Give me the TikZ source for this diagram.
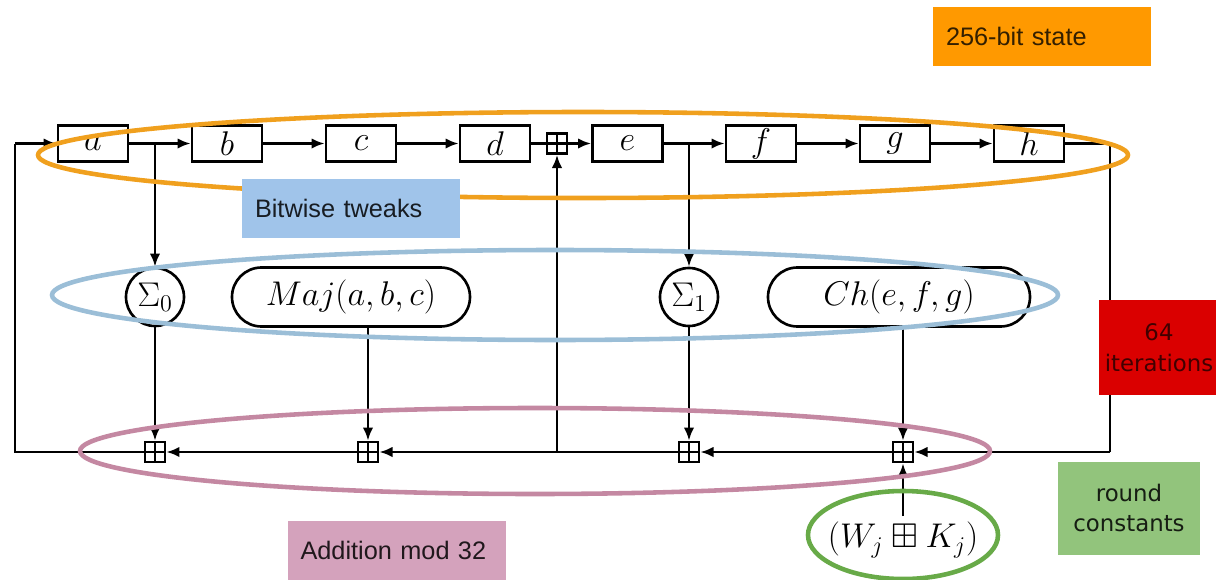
\RequirePackage{fix-cm}
\documentclass[tikz,border=0pt]{standalone}
\usepackage{amssymb}
\usepackage{fontspec}
\newfontfamily\labelfont{Liberation Sans}
\newfontfamily\notefont{DejaVu Sans}
\usetikzlibrary{arrows.meta,shapes.misc}
\definecolor{stateorange}{RGB}{240,160,30}
\definecolor{statefill}{RGB}{255,153,0}
\definecolor{tweakblue}{RGB}{155,190,215}
\definecolor{tweakfill}{RGB}{160,196,234}
\definecolor{addpink}{RGB}{196,136,162}
\definecolor{addfill}{RGB}{212,162,188}
\definecolor{constgreen}{RGB}{104,170,72}
\definecolor{constfill}{RGB}{146,196,124}
\definecolor{iterred}{RGB}{218,0,0}
\begin{document}
\begin{tikzpicture}[
      every node/.style={font=\fontsize{19.5}{23}\selectfont},
      reg/.style={rectangle, draw, line width=1.5pt, minimum width=1.4cm, minimum height=0.72cm, inner sep=0},
      func/.style={rounded rectangle, draw, line width=1.5pt, minimum height=1.18cm, inner sep=0},
      sigma/.style={circle, draw, line width=1.5pt, minimum size=1.16cm, inner sep=0},
      adder/.style={rectangle, draw, line width=1.5pt, minimum size=0.4cm, inner sep=0,
        path picture={\draw[line width=1.5pt] (path picture bounding box.north) -- (path picture bounding box.south)
          (path picture bounding box.west) -- (path picture bounding box.east);}},
      wire/.style={line width=1.5pt},
      flow/.style={wire, ->, >={Latex[length=7.5pt,width=6pt]}},
      ring/.style={line width=2.6pt},
      tag/.style={rectangle, minimum height=1.18cm, text width=3.84cm, align=left, inner xsep=0.26cm, font=\labelfont\fontsize{14.4}{17}\selectfont},
      note/.style={rectangle, align=center, font=\notefont\fontsize{13}{17.6}\selectfont}
  ]
    \useasboundingbox (0,0) rectangle (24.32,-11.6);

    \node[reg] (a) at (1.86,-2.87) {$a$};
    \node[reg] (b) at (4.54,-2.87) {$b$};
    \node[reg] (c) at (7.22,-2.87) {$c$};
    \node[reg] (d) at (9.90,-2.87) {$d$};
    \node[adder] (addtop) at (11.14,-2.87) {};
    \node[reg] (e) at (12.55,-2.87) {$e$};
    \node[reg] (f) at (15.22,-2.87) {$f$};
    \node[reg] (g) at (17.90,-2.87) {$g$};
    \node[reg] (h) at (20.58,-2.87) {$h$};

    \node[sigma] (sig0) at (3.1,-5.94) {$\Sigma_0$};
    \node[func, minimum width=4.76cm] (maj) at (7.02,-5.94) {$Maj(a,b,c)$};
    \node[sigma] (sig1) at (13.78,-5.94) {$\Sigma_1$};
    \node[func, minimum width=5.24cm] (ch) at (17.98,-5.94) {$Ch(e,f,g)$};

    \node[adder] (add0) at (3.1,-9.04) {};
    \node[adder] (addmaj) at (7.36,-9.04) {};
    \node[adder] (add1) at (13.78,-9.04) {};
    \node[adder] (addch) at (18.06,-9.04) {};
    \node (wk) at (18.06,-10.8) {$(W_j \boxplus K_j)$};

    \coordinate (lt) at (0.3,-2.87);
    \coordinate (lb) at (0.3,-9.04);
    \coordinate (rt) at (22.2,-2.87);
    \coordinate (rb) at (22.2,-9.04);
    \coordinate (mid) at (11.14,-9.04);

    \draw[flow] (lt) -- (a);
    \draw[flow] (a) -- (b);
    \draw[flow] (b) -- (c);
    \draw[flow] (c) -- (d);
    \draw[wire] (d) -- (addtop);
    \draw[flow] (addtop) -- (e);
    \draw[flow] (e) -- (f);
    \draw[flow] (f) -- (g);
    \draw[flow] (g) -- (h);
    \draw[wire] (h) -- (rt) -- (rb);
    \draw[flow] (rb) -- (addch);
    \draw[flow] (addch) -- (add1);
    \draw[flow] (add1) -- (addmaj);
    \draw[flow] (addmaj) -- (add0);
    \draw[wire] (add0) -- (lb) -- (lt);
    \draw[flow] (mid) -- (addtop);
    \draw[flow] (a.east -| sig0) -- (sig0);
    \draw[flow] (sig0) -- (add0);
    \draw[flow] (maj.south -| addmaj) -- (addmaj);
    \draw[flow] (e.east -| sig1) -- (sig1);
    \draw[flow] (sig1) -- (add1);
    \draw[flow] (ch.south -| addch) -- (addch);
    \draw[flow] (wk) -- (addch);

    \draw[ring, stateorange] (11.66,-3.1) ellipse [x radius=10.9, y radius=0.86];
    \draw[ring, tweakblue] (11.1,-5.9) ellipse [x radius=10.06, y radius=0.9];
    \draw[ring, addpink] (10.7,-9.02) ellipse [x radius=9.1, y radius=0.86];
    \draw[ring, constgreen] (18.06,-10.7) ellipse [x radius=1.9, y radius=0.88];

    \node[tag, fill=statefill, text=black!80!statefill] (lstate) at (20.84,-0.72) {256-bit state};
    \node[tag, fill=tweakfill, text=black!85!tweakfill] (ltweak) at (7.02,-4.16) {Bitwise tweaks};
    \node[tag, fill=addfill, text=black!85!addfill] (laddmod) at (7.93,-11.0) {Addition mod 32};
    \node[note, fill=iterred, text=black!70!iterred, minimum width=2.28cm, minimum height=1.9cm] (liter) at (23.18,-6.95) {64\\iterations};
    \node[note, fill=constfill, text=black!85!constfill, minimum width=2.84cm, minimum height=1.86cm] (lconst) at (22.58,-10.16) {round\\constants};
  \end{tikzpicture}
\end{document}
